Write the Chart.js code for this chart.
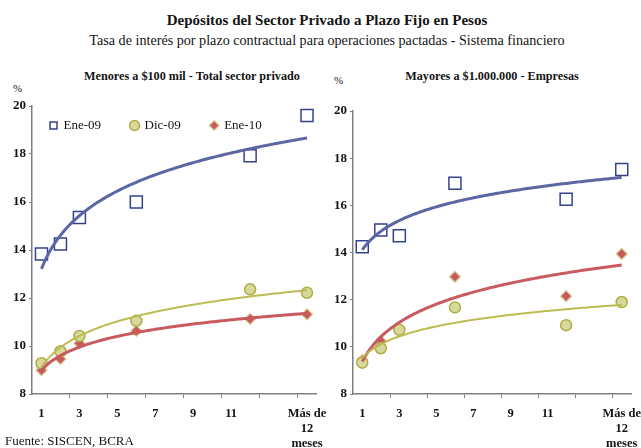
<!DOCTYPE html>
<html>
<head>
<meta charset="utf-8">
<script src="https://cdn.jsdelivr.net/npm/chart.js@4/dist/chart.umd.min.js"></script>
<style>
  html, body { margin: 0; padding: 0; background: #fff; }
  body { position: relative; width: 641px; height: 448px; overflow: hidden;
         font-family: "Liberation Serif", "DejaVu Serif", serif; color: #141414; }
  .txt { position: absolute; white-space: nowrap; line-height: 1; }
  #title { top: 13px; left: 327px; transform: translateX(-50%); font-size: 15px; font-weight: bold; }
  #subtitle { top: 33px; left: 327px; transform: translateX(-50%); font-size: 14.15px; }
  .panel { top: 70px; transform: translateX(-50%); font-size: 12.2px; font-weight: bold; }
  #pL { left: 192px; }
  #pR { left: 492px; }
  .pct { font-size: 11px; }
  #pctL { left: 13px; top: 83px; }
  #pctR { left: 334px; top: 75px; }
  #source { left: 5px; top: 434px; font-size: 13px; }
  canvas { position: absolute; }
  #cL { left: 0; top: 95px; }
  #cR { left: 320px; top: 95px; }
</style>
</head>
<body>
<div id="title" class="txt">Depósitos del Sector Privado a Plazo Fijo en Pesos</div>
<div id="subtitle" class="txt">Tasa de interés por plazo contractual para operaciones pactadas - Sistema financiero</div>
<div id="pL" class="txt panel">Menores a $100 mil - Total sector privado</div>
<div id="pR" class="txt panel">Mayores a $1.000.000 - Empresas</div>
<div id="pctL" class="txt pct">%</div>
<div id="pctR" class="txt pct">%</div>
<canvas id="cL" width="340" height="353"></canvas>
<canvas id="cR" width="321" height="353"></canvas>
<div id="source" class="txt">Fuente: SISCEN, BCRA</div>

<script>
// Plazo contractual (meses); the last position holds "Más de 12 meses"
const plazos = [1, 2, 3, 6, 12, 15];
const seriesNames = ['Ene-09', 'Dic-09', 'Ene-10'];

// Menores a $100 mil - Total sector privado (% TNA)
const menoresEne09 = [13.83, 14.25, 15.35, 16.00, 17.93, 19.60];
const menoresDic09 = [9.28, 9.78, 10.42, 11.05, 12.36, 12.22];
const menoresEne10 = [8.99, 9.46, 10.11, 10.63, 11.13, 11.32];

// Mayores a $1.000.000 - Empresas (% TNA)
const mayoresEne09 = [14.24, 14.95, 14.71, 16.94, 16.26, 17.52];
const mayoresDic09 = [9.33, 9.94, 10.72, 11.67, 10.92, 11.90];
const mayoresEne10 = [9.44, 10.25, 10.78, 12.97, 12.15, 13.94];

// Axis labelling
const xTickValues = [1, 3, 5, 7, 9, 11, 15];
const xTickLabels = ['1', '3', '5', '7', '9', '11', ['Más de', '12', 'meses']];
const yMin = 8, yMax = 20, yStep = 2;

const FONT = '"Liberation Serif", "DejaVu Serif", serif';
const AXIS_GRAY = '#7f7f7f';

const styles = [
  { pointStyle: 'rect',    radius: 8.5, bg: 'rgba(255,255,255,0)', border: '#34428c', bw: 1.5,
    trend: '#5b66a3', tw: 3 },
  { pointStyle: 'circle',  radius: 5.5, bg: '#d7d89c', border: '#aeae44', bw: 1.5,
    trend: '#bcbc52', tw: 2 },
  { pointStyle: 'rectRot', radius: 5.5, bg: '#c85a5f', border: '#d4cc8c', bw: 1.2,
    trend: '#c95a5f', tw: 3 }
];

// Logarithmic trend (least squares on ln x), evaluated along the plazo range
function logTrend(xs, ys) {
  const lx = xs.map(Math.log);
  const n = xs.length;
  const mx = lx.reduce((a, b) => a + b, 0) / n;
  const my = ys.reduce((a, b) => a + b, 0) / n;
  let sxy = 0, sxx = 0;
  for (let i = 0; i < n; i++) { sxy += (lx[i] - mx) * (ys[i] - my); sxx += (lx[i] - mx) ** 2; }
  const b = sxy / sxx, a = my - b * mx;
  const first = xs[0], last = xs[n - 1];
  const pts = [];
  for (let k = 0; k <= 140; k++) {
    const x = first + (last - first) * k / 140;
    pts.push({ x, y: a + b * Math.log(x) });
  }
  return pts;
}

function buildDatasets(seriesValues) {
  const markers = [], trends = [];
  seriesValues.forEach((vals, i) => {
    const s = styles[i];
    markers.push({
      label: seriesNames[i],
      data: plazos.map((p, j) => ({ x: p, y: vals[j] })),
      showLine: false,
      pointStyle: s.pointStyle,
      pointRadius: s.radius,
      pointHoverRadius: s.radius,
      backgroundColor: s.bg,
      pointBackgroundColor: s.bg,
      borderColor: s.border,
      pointBorderColor: s.border,
      pointBorderWidth: s.bw,
      borderWidth: s.bw,
      order: 2
    });
    trends.push({
      label: seriesNames[i] + ' (tendencia)',
      isTrend: true,
      data: logTrend(plazos, vals),
      showLine: true,
      pointRadius: 0,
      borderColor: s.trend,
      borderWidth: s.tw,
      tension: 0,
      order: 1
    });
  });
  return markers.concat(trends);
}

// Category boundaries every two plazos carry the axis tick marks
const tickMarks = [];
for (let k = 1; k <= 7; k++) tickMarks.push(2 * k + 0.5);

// Legend laid out as a single row inside the plot area, near its top-left corner
function inPlotLegend(dx, dy) {
  return {
    id: 'inPlotLegend',
    beforeLayout(chart) {
      if (chart.legend) chart.legend.isHorizontal = () => true;
    },
    afterLayout(chart) {
      const lg = chart.legend;
      if (!lg) return;
      lg.left += dx; lg.right += dx;
      lg.top += dy; lg.bottom += dy;
    }
  };
}

function makeChart(canvasId, seriesValues, opt) {
  return new Chart(document.getElementById(canvasId), {
    type: 'scatter',
    data: { datasets: buildDatasets(seriesValues) },
    plugins: opt.legend ? [inPlotLegend(opt.legendDx, opt.legendDy)] : [],
    options: {
      responsive: false,
      animation: false,
      devicePixelRatio: 1,
      layout: { padding: opt.padding },
      plugins: {
        tooltip: { enabled: false },
        title: { display: false },
        legend: {
          display: !!opt.legend,
          position: 'chartArea',
          align: 'start',
          labels: {
            usePointStyle: true,
            boxWidth: 7,
            boxHeight: 7,
            padding: 30,
            color: '#141414',
            font: { family: FONT, size: 13 },
            filter: (item, data) => !data.datasets[item.datasetIndex].isTrend
          }
        }
      },
      scales: {
        x: {
          type: 'linear',
          min: 0.5,
          max: 15.5,
          afterBuildTicks(scale) {
            const vals = xTickValues.concat(tickMarks).sort((a, b) => a - b);
            scale.ticks = vals.map(v => ({ value: v }));
          },
          afterFit(scale) {
            scale.height = 54;
            scale.paddingLeft = 0;
            scale.paddingRight = 0;
          },
          ticks: {
            autoSkip: false,
            maxRotation: 0,
            padding: 8,
            color: '#141414',
            font: { family: FONT, size: 12.5, weight: 'bold', lineHeight: 1.2 },
            callback(value) {
              const i = xTickValues.indexOf(value);
              return i >= 0 ? xTickLabels[i] : '';
            }
          },
          grid: {
            drawOnChartArea: false,
            drawTicks: true,
            tickLength: 4,
            tickWidth: 1,
            tickColor: ctx => (ctx.tick && Number.isInteger(ctx.tick.value)) ? 'rgba(0,0,0,0)' : AXIS_GRAY
          },
          border: { display: true, color: AXIS_GRAY, width: 1.5 }
        },
        y: {
          min: yMin,
          max: yMax,
          afterFit(scale) { scale.width = opt.yWidth; },
          ticks: {
            stepSize: yStep,
            padding: 3,
            color: '#141414',
            font: { family: FONT, size: 13, weight: 'bold' }
          },
          grid: {
            drawOnChartArea: false,
            drawTicks: true,
            tickLength: 3,
            tickColor: AXIS_GRAY
          },
          border: { display: true, color: AXIS_GRAY, width: 1.5 }
        }
      }
    }
  });
}

makeChart('cL', [menoresEne09, menoresDic09, menoresEne10], {
  padding: { top: 11, right: 23.5, bottom: 0, left: 0 },
  yWidth: 32,
  legend: true,
  legendDx: 20,
  legendDy: -17
});

makeChart('cR', [mayoresEne09, mayoresDic09, mayoresEne10], {
  padding: { top: 16, right: 8, bottom: 0, left: 0 },
  yWidth: 33,
  legend: false
});
</script>
</body>
</html>
